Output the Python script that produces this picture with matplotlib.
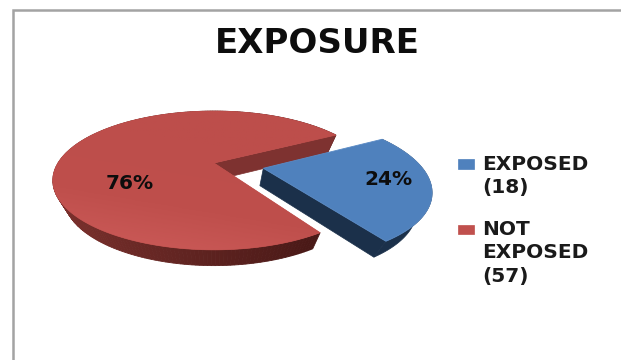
import numpy as np
import matplotlib
matplotlib.use("Agg")
import matplotlib.pyplot as plt
from matplotlib.colors import to_rgb, LinearSegmentedColormap
from matplotlib.patches import Polygon, Rectangle

categories = ["EXPOSED", "NOT EXPOSED"]
counts = [18, 57]
legend_labels = ["EXPOSED\n(18)", "NOT\nEXPOSED\n(57)"]
title = "EXPOSURE"

W, H = 621, 360
fig = plt.figure(figsize=(W / 100, H / 100), dpi=100, facecolor="white")
ax = fig.add_axes([0, 0, 1, 1])
ax.axis("off")

# Perspective projection of the unit disc onto pixel-like axes coordinates
CX, CY = 214, 163
SX, SY, K = 156, 65, 0.2516
DEPTH, BOTTOM_SX, BOTTOM_SY = 17.5, 0.93, 0.98


def project(X, Y, bottom=False):
    X, Y = np.asarray(X, float), np.asarray(Y, float)
    w = 1 + K * Y
    x, y = SX * X / w, -SY * Y / w
    if bottom:
        return CX + x * BOTTOM_SX, CY + y * BOTTOM_SY + DEPTH
    return CX + x, CY + y


def pts(X, Y, bottom=False):
    return np.column_stack(project(X, Y, bottom))


def blend(a, b, t):
    a, b = np.array(to_rgb(a)), np.array(to_rgb(b))
    return tuple(a + (b - a) * t)


total = sum(counts)
fractions = [c / total for c in counts]
start = np.radians(28.8)
blue_sweep = 2 * np.pi * fractions[0]
red_sweep = 2 * np.pi * fractions[1]

# Frame around the chart area
ax.plot([12.5, 12.5, W + 5], [H + 5, 9.5, 9.5], color="#a3a3a3", lw=1.8, solid_joinstyle="miter")

# Not-exposed slice: outer wall, inner cut wall, top face
th_red = np.linspace(start, start + red_sweep, 240)
for a0, a1 in zip(th_red[:-1], th_red[1:]):
    seg = np.array([a0, a1])
    t = np.clip((np.cos(a0) + 1) / 1.55, 0, 1)
    col = blend("#80332f", "#481816", t)
    quad = np.vstack([pts(np.cos(seg), np.sin(seg)), pts(np.cos(seg[::-1]), np.sin(seg[::-1]), True)])
    ax.add_patch(Polygon(quad, closed=True, fc=col, ec=col, lw=0.6))

cut = np.array([[0, 0], [np.cos(start), np.sin(start)]])
wall = np.vstack([pts(cut[:, 0], cut[:, 1]), pts(cut[::-1, 0], cut[::-1, 1], True)])
ax.add_patch(Polygon(wall, closed=True, fc="#7e3230", ec="#7e3230", lw=0.5))

red_top = np.vstack([pts([0], [0]), pts(np.cos(th_red), np.sin(th_red))])
red_face = Polygon(red_top, closed=True, fc="#c0504d", ec="#c0504d", lw=0.5)
ax.add_patch(red_face)
cmap = LinearSegmentedColormap.from_list("face", ["#bd4e4b", "#bf4f4c", "#ce5d5b"])
gx, gy = np.meshgrid(np.linspace(0, 1, 128), np.linspace(0, 1, 128))
shade = ax.imshow(gy * 0.75 + (1 - gx) * 0.25, extent=(50, 340, 255, 108), cmap=cmap,
                  origin="upper", aspect="auto", vmin=0.3, vmax=1, zorder=1.5)
shade.set_clip_path(red_face)

# Exposed slice, pulled out along its mid-angle
mid = start - blue_sweep / 2
ox, oy = 0.32 * np.cos(mid), 0.32 * np.sin(mid)
th_blue = np.linspace(start - blue_sweep, start, 90)
wx, wy = ox + np.cos(th_blue), oy + np.sin(th_blue)
arc_wall = np.vstack([pts(wx, wy), pts(wx[::-1], wy[::-1], True)])
ax.add_patch(Polygon(arc_wall, closed=True, fc="#1b304a", ec="#1b304a", lw=0.5, zorder=2))
lx = np.array([ox, ox + np.cos(th_blue[0])])
ly = np.array([oy, oy + np.sin(th_blue[0])])
side = np.vstack([pts(lx, ly), pts(lx[::-1], ly[::-1], True)])
ax.add_patch(Polygon(side, closed=True, fc="#1b304a", ec="#1b304a", lw=0.5, zorder=2))
blue_top = np.vstack([pts([ox], [oy]), pts(wx, wy)])
ax.add_patch(Polygon(blue_top, closed=True, fc="#4f81bd", ec="#5a8ac4", lw=0.6, zorder=2.5))

# Percentage labels
ax.text(130, 183.5, f"{counts[1] / total:.0%}", ha="center", va="center", fontsize=14.5,
        fontweight="bold", family="DejaVu Sans", color="#0d0d0d", zorder=3)
ax.text(388.5, 179.5, f"{counts[0] / total:.0%}", ha="center", va="center", fontsize=14.5,
        fontweight="bold", family="DejaVu Sans", color="#0d0d0d", zorder=3)

ax.text(317.5, 43.5, title, ha="center", va="center", fontsize=24.5, fontweight="bold",
        family="DejaVu Sans", color="#0d0d0d", zorder=3)

# Legend keys and wrapped labels
swatches = ["#4f81bd", "#c0504d"]
key_tops = [159, 224.5]
for colour, label, top in zip(swatches, legend_labels, key_tops):
    ax.add_patch(Rectangle((458, top), 16, 9.5, fc=colour, ec=colour, lw=0.5, zorder=3))
    for i, line in enumerate(label.split("\n")):
        ax.text(482, top + 5 + i * 23.5, line, ha="left", va="center", fontsize=14.5,
                fontweight="bold", family="DejaVu Sans", color="#1a1a1a", zorder=3)

ax.set_xlim(0, W)
ax.set_ylim(H, 0)
fig.savefig("out.png", dpi=100, facecolor="white")
